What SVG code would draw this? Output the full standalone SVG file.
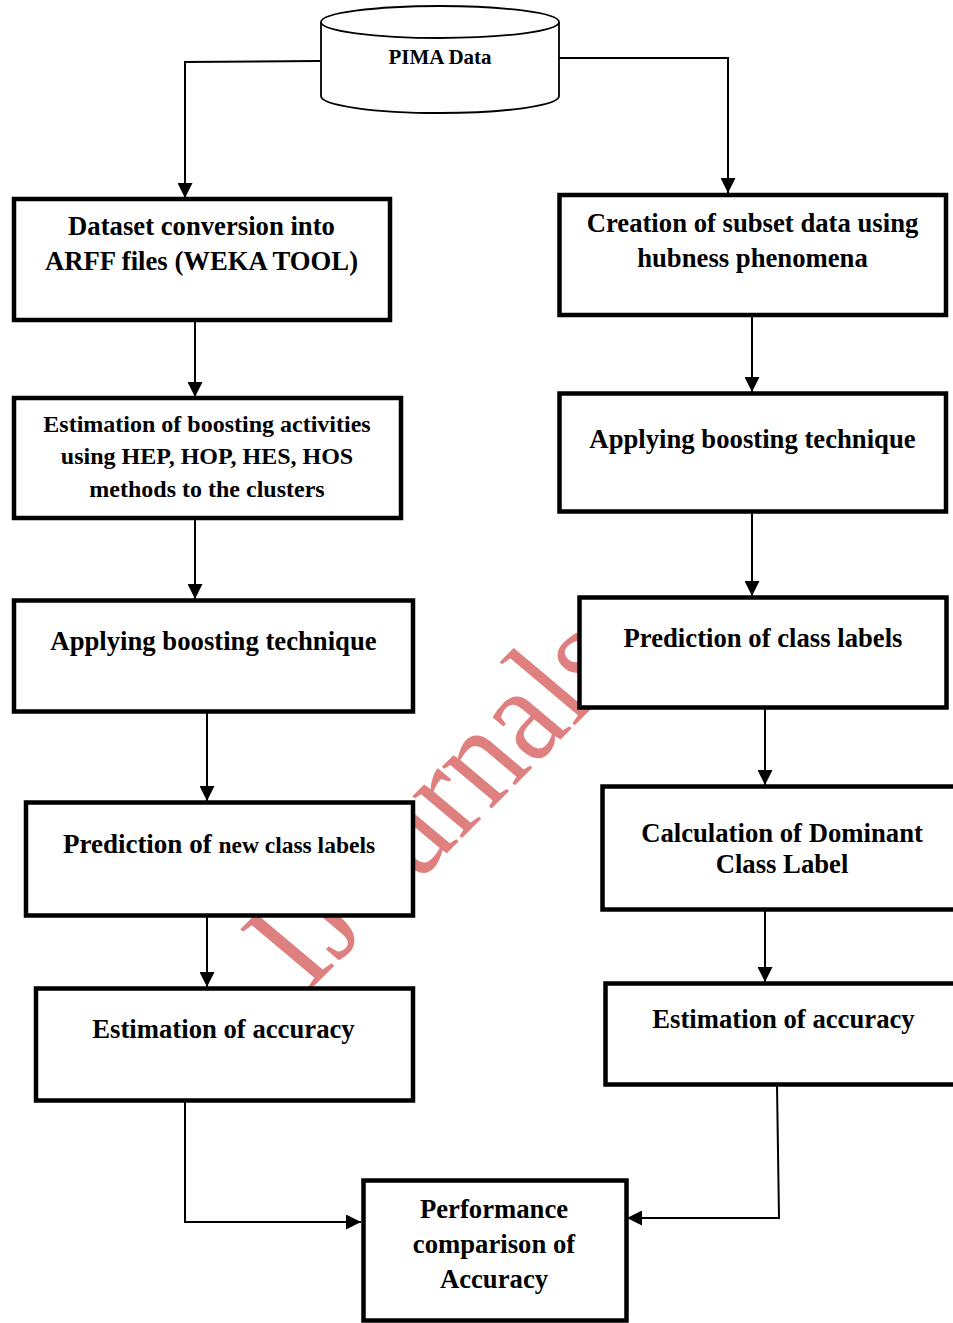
<svg xmlns="http://www.w3.org/2000/svg" width="953" height="1323" viewBox="0 0 953 1323">
<style>
.box{fill:#fff;stroke:#000;stroke-width:4.5}
.cyl{fill:#fff;stroke:#000;stroke-width:1.8}
.t{font-family:"Liberation Serif","Times New Roman",serif;font-weight:bold;fill:#000;text-anchor:middle}
.f26{font-size:26.7px}
.f24{font-size:24px}
.con{fill:none;stroke:#000;stroke-width:2}
.wm{font-family:"Liberation Serif","Times New Roman",serif;font-size:125px;fill:#df8080}
</style>
<defs>
<marker id="ah2" markerWidth="15" markerHeight="15" refX="15" refY="7.5" orient="auto" markerUnits="userSpaceOnUse" viewBox="0 0 15 15">
<path d="M0,0 L15,7.5 L0,15 Z" fill="#000"/>
</marker>
</defs>
<rect width="953" height="1323" fill="#fff"/>
<text class="wm" transform="matrix(0.707,-0.707,0.866,0.727,308,992)">IJournals</text>
<g id="connectors">
<path class="con" d="M320,61 L185,62 L185,198" marker-end="url(#ah2)"/>
<path class="con" d="M559,58 L728,58 L728,193" marker-end="url(#ah2)"/>
<path class="con" d="M195,320 L195,397" marker-end="url(#ah2)"/>
<path class="con" d="M195,518 L195,599" marker-end="url(#ah2)"/>
<path class="con" d="M207,711 L207,801" marker-end="url(#ah2)"/>
<path class="con" d="M207,910 L207,987" marker-end="url(#ah2)"/>
<path class="con" d="M185,1100 L185,1222 L361,1222" marker-end="url(#ah2)"/>
<path class="con" d="M752,315 L752,392" marker-end="url(#ah2)"/>
<path class="con" d="M752,511 L752,596" marker-end="url(#ah2)"/>
<path class="con" d="M765,707 L765,785" marker-end="url(#ah2)"/>
<path class="con" d="M765,905 L765,982" marker-end="url(#ah2)"/>
<path class="con" d="M777,1085 L779,1218 L627,1218" marker-end="url(#ah2)"/>
</g>
<g id="pima">
<path class="cyl" d="M321,22 L321,96 A119,17 0 0 0 559,96 L559,22"/>
<ellipse class="cyl" cx="440" cy="22" rx="119" ry="16"/>
<text class="t" x="440" y="64" style="font-size:21px">PIMA Data</text>
</g>
<g id="n-dataset">
<rect class="box" x="14" y="199" width="376" height="121"/>
<text class="t f26" x="201.5" y="235">Dataset conversion into</text>
<text class="t f26" x="201.5" y="270">ARFF files (WEKA TOOL)</text>
</g>
<g id="n-estimation-boost">
<rect class="box" x="14" y="398" width="387" height="120"/>
<text class="t f24" x="207" y="432">Estimation of boosting activities</text>
<text class="t f24" x="207" y="464">using HEP, HOP, HES, HOS</text>
<text class="t f24" x="207" y="497">methods to the clusters</text>
</g>
<g id="n-apply-left">
<rect class="box" x="14" y="600.5" width="399" height="111"/>
<text class="t f26" x="213.5" y="650">Applying boosting technique</text>
</g>
<g id="n-predict-new">
<rect class="box" x="26" y="802.5" width="387" height="113"/>
<text class="t" x="219" y="853"><tspan style="font-size:27px">Prediction of </tspan><tspan style="font-size:23.5px">new class labels</tspan></text>
</g>
<g id="n-accuracy-left">
<rect class="box" x="36" y="988.5" width="377" height="112"/>
<text class="t f26" x="223.5" y="1038">Estimation of accuracy</text>
</g>
<g id="n-subset">
<rect class="box" x="559.5" y="195" width="386.5" height="120"/>
<text class="t f26" x="752.5" y="232">Creation of subset data using</text>
<text class="t f26" x="752.5" y="267">hubness phenomena</text>
</g>
<g id="n-apply-right">
<rect class="box" x="559.5" y="393.5" width="386.5" height="118"/>
<text class="t f26" x="752.5" y="448">Applying boosting technique</text>
</g>
<g id="n-predict-class">
<rect class="box" x="579.5" y="597.5" width="367" height="110"/>
<text class="t f26" x="763" y="647">Prediction of class labels</text>
</g>
<g id="n-dominant">
<rect class="box" x="602.5" y="786.5" width="360" height="123"/>
<text class="t f26" x="782" y="842">Calculation of Dominant</text>
<text class="t f26" x="782" y="873">Class Label</text>
</g>
<g id="n-accuracy-right">
<rect class="box" x="605.5" y="983.5" width="360" height="101"/>
<text class="t f26" x="783.5" y="1028">Estimation of accuracy</text>
</g>
<g id="n-performance">
<rect class="box" x="363.5" y="1180.5" width="263" height="140"/>
<text class="t f26" x="494" y="1218">Performance</text>
<text class="t f26" x="494" y="1253">comparison of</text>
<text class="t f26" x="494" y="1288">Accuracy</text>
</g>
</svg>
